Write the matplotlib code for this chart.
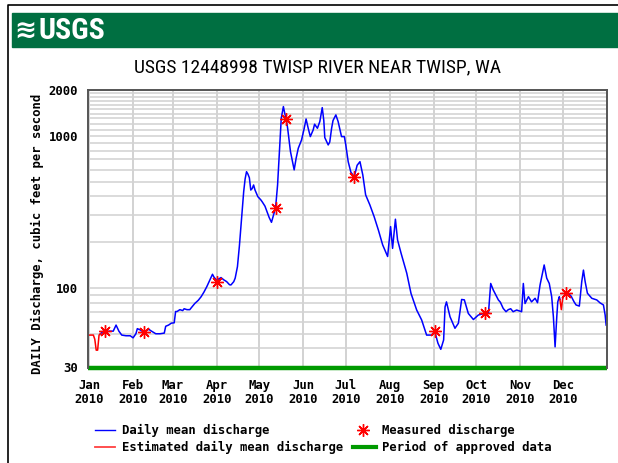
import numpy as np
import matplotlib
matplotlib.use("Agg")
import matplotlib.pyplot as plt
from matplotlib.lines import Line2D
from matplotlib.patches import Rectangle
from matplotlib.ticker import FixedLocator, NullFormatter
from matplotlib import font_manager

# Twisp River daily mean discharge, 2010 (ft3/s).
# day = days since 1 Jan 2010
est_day = [0, 3, 4, 5, 6, 7, 8]
est_q = [49, 49, 46, 39, 39, 49, 50]
est2_day = [332, 333, 334]
est2_q = [84, 72, 86]

daily_day = [8, 10, 12, 14, 17, 19, 21, 23, 26, 29, 31, 33, 34, 36, 38, 40, 42, 44, 47, 50,
             53, 54, 56, 58, 60, 61, 62, 64, 66, 67, 69, 71, 72, 74.5, 77, 79, 81, 83, 85, 87,
             88, 90, 91, 93, 95, 97, 99, 100, 102, 103, 104.6, 106, 107, 108, 109, 110, 111, 112, 113, 114,
             115, 116, 117, 119, 121, 122, 124, 125, 127, 128.6, 130, 131.5, 132.9, 134.5, 135.5, 137, 138, 139, 140, 142,
             144.6, 146, 147.5, 149.8, 151.7, 153, 154.5, 156, 158, 159, 161, 162.7, 164.4, 165.5, 166.2, 168.6, 169.7, 171, 172, 174,
             175.6, 178, 180, 181, 182.7, 184.6, 187, 189, 191, 193, 195, 198, 201, 204, 207, 210.5, 212.6, 214, 216, 217.5,
             220, 224, 227, 231, 234.5, 238, 241.5, 243.7, 246, 248, 250, 251, 252, 254.5, 258, 260.4, 262.7, 264.6, 267.4, 271,
             274.5, 278.7, 281.6, 283.2, 285, 288.6, 290, 292, 294, 295.6, 297.3, 299, 301.5, 305, 306.2, 307.4, 309.8, 312, 314.5, 316.2,
             318, 320.9, 322.7, 324.5, 326.2, 327.4, 328.6, 329.8, 330.5, 331.6, 332, 333, 334, 336, 338, 340, 342, 343.4, 345.7, 347.4,
             348.6, 349.8, 351.4, 354.5, 358, 360.3, 362.7, 363.9, 364.6]
daily_q = [50, 52, 51, 52, 52, 57, 52, 49, 48.5, 48.5, 47, 50, 54, 53, 51.5, 52, 53.5, 52, 50, 50,
           50.5, 56, 57, 58.7, 59, 70, 70, 72, 71, 73, 72, 72, 74, 79, 83, 87.6, 94, 102, 112, 123,
           118, 112, 114, 117, 113, 110, 105, 104.6, 110, 116, 138, 190, 250, 334, 429, 520, 581, 560, 530, 440,
           450, 475, 440, 398, 380, 369, 345, 326, 290, 270, 300, 337, 475, 871, 1305, 1556, 1400, 1285, 1121, 787,
           597, 713, 828, 939, 1121, 1290, 1121, 988, 1093, 1192, 1121, 1241, 1532, 1260, 973, 871, 910, 1121, 1260, 1372,
           1241, 988, 988, 871, 676, 576, 539, 640, 676, 553, 409, 351, 294, 240, 192, 161, 253, 182, 283, 207,
           169, 125, 92, 71.6, 61.6, 49, 49, 52, 43.3, 39.5, 45.5, 75, 81, 64.7, 54.3, 58.6, 84, 83.5, 68, 62,
           66.4, 68, 68, 107, 97, 83.4, 80.6, 73.4, 69.8, 72, 73, 69.8, 71.6, 69.8, 107, 79, 87.6, 81, 85.5, 80,
           104.6, 141.6, 116, 107, 87.6, 64.7, 41, 64.7, 81, 87.6, 84, np.nan, 86, 92, 92, 88, 81, 77.3, 76, 110,
           131, 110, 92.3, 85.5, 83.4, 79.8, 77.3, 66.4, 57]

meas_day = [11.5, 38.5, 90, 131.5, 139, 187, 244, 279, 336]
meas_q = [52, 51.5, 109, 337, 1285, 539, 52.4, 68, 92]

month_start = [0, 31, 59, 90, 120, 151, 181, 212, 243, 273, 304, 334]
month_names = ["Jan", "Feb", "Mar", "Apr", "May", "Jun", "Jul", "Aug", "Sep", "Oct", "Nov", "Dec"]
y_major = [30, 100, 1000, 2000]
y_minor = list(range(40, 100, 10)) + list(range(200, 1000, 100)) + list(range(1100, 2000, 100))

W, H = 618, 463
mono = dict(family="DejaVu Sans Mono", weight="bold", size=8.8)

# narrow sans for the title, if the system has one
installed = {f.name for f in font_manager.fontManager.ttflist}
narrow = None
for name in ["Liberation Sans Narrow", "Arial Narrow", "DejaVu Sans Condensed", "Roboto Condensed"]:
    if name in installed:
        narrow = name
        break

fig = plt.figure(figsize=(W / 100, H / 100), dpi=100)

def fx(px):
    return px / W

def fy(py):
    return 1 - py / H

# outer frame and banner
fig.add_artist(Line2D([fx(7.5), fx(7.5), 1], [0, fy(4.5), fy(4.5)], color="black", lw=1.2))
fig.add_artist(Rectangle((fx(12), fy(47)), 1 - fx(12), fy(13) - fy(47), color="#006f41"))
fig.text(fx(14), fy(30.5), "\u224b", color="white", fontsize=19, fontweight="bold", va="center", ha="left")
if narrow:
    fig.text(fx(39), fy(31), "USGS", color="white", fontsize=21.5, fontweight="bold",
             family=narrow, va="center", ha="left")
    fig.text(fx(318), fy(67), "USGS 12448998 TWISP RIVER NEAR TWISP, WA", fontsize=14,
             family=narrow, ha="center", va="center")
else:
    fig.text(fx(39), fy(31), "USGS", color="white", fontsize=17, fontweight="bold",
             family="DejaVu Sans", va="center", ha="left")
    fig.text(fx(318), fy(67), "USGS 12448998 TWISP RIVER NEAR TWISP, WA", fontsize=11.2,
             family="DejaVu Sans", ha="center", va="center")

ax = fig.add_axes([fx(87.7), fy(367.5), fx(606.7) - fx(87.7), fy(90) - fy(367.5)])
ax.set_yscale("log")
ax.set_ylim(30, 2000)
ax.set_xlim(-1, 365)

ax.set_yticks(y_major)
ax.set_yticklabels([str(v) for v in y_major], **mono)
ax.yaxis.set_minor_locator(FixedLocator(y_minor))
ax.yaxis.set_minor_formatter(NullFormatter())
ax.set_xticks(month_start)
ax.set_xticklabels([m + "\n2010" for m in month_names], linespacing=1.15, **mono)
ax.tick_params(axis="both", which="both", length=0)
ax.tick_params(axis="y", pad=7)
ax.tick_params(axis="x", pad=8)

ax.grid(True, axis="y", which="both", color="#d4d4d4", lw=1.2)
ax.grid(True, axis="x", color="#cfcfcf", lw=1.3)
ax.set_axisbelow(True)
for side in ["left", "top", "right"]:
    ax.spines[side].set_color("#555555")
    ax.spines[side].set_linewidth(1.4)
ax.spines["bottom"].set_visible(False)

ax.plot(daily_day, daily_q, color="#0000ff", lw=1.1)
ax.plot(est_day, est_q, color="#ff0000", lw=1.1)
ax.plot(est2_day, est2_q, color="#ff0000", lw=1.1)
ax.plot(meas_day, meas_q, ls="none", marker=(8, 2, 0), ms=9, mew=1.0, color="#ff0000")
ax.plot([-1, 365], [30, 30], color="#009a00", lw=3.2, clip_on=False, solid_capstyle="butt")

fig.text(fx(37), fy(234), "DAILY Discharge, cubic feet per second", rotation=90,
         ha="center", va="center", **mono)

# legend
fig.add_artist(Line2D([fx(95), fx(115)], [fy(430), fy(430)], color="#0000ff", lw=1.0))
fig.add_artist(Line2D([fx(95), fx(115)], [fy(447), fy(447)], color="#ff4040", lw=1.3))
fig.add_artist(Line2D([fx(363.3)], [fy(430)], marker=(8, 2, 0), ms=9, mew=1.0, color="#ff0000"))
fig.add_artist(Line2D([fx(352.5), fx(376.5)], [fy(447), fy(447)], color="#009a00", lw=3.0))
fig.text(fx(122), fy(430), "Daily mean discharge", va="center", **mono)
fig.text(fx(122), fy(447), "Estimated daily mean discharge", va="center", **mono)
fig.text(fx(381.5), fy(430), "Measured discharge", va="center", **mono)
fig.text(fx(381.5), fy(447), "Period of approved data", va="center", **mono)

fig.savefig("out.png", dpi=100)
